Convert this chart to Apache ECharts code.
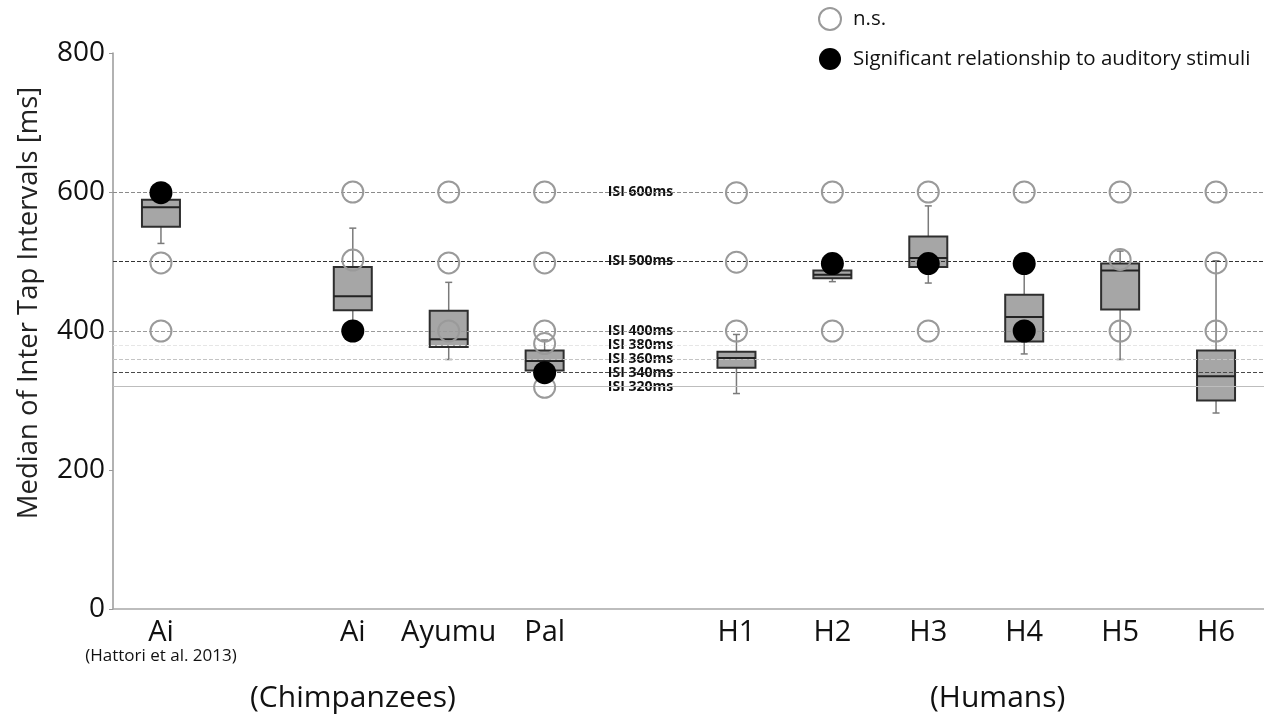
<!DOCTYPE html>
<html>
<head>
<meta charset="utf-8">
<script src="https://cdn.jsdelivr.net/npm/echarts@6/dist/echarts.min.js"></script>
<style>
html,body{margin:0;padding:0;background:#fff;}
#chart{width:1264px;height:715px;}
</style>
</head>
<body>
<div id="chart"></div>
<script>
// ---- data ----
const categories = ['Ai (Hattori et al. 2013)', '', 'Ai', 'Ayumu', 'Pal', ' ', 'H1', 'H2', 'H3', 'H4', 'H5', 'H6'];
const yTicks = [0, 200, 400, 600, 800];

// box plot per subject (category index)
const boxCat = [0, 2, 3, 4, 6, 7, 8, 9, 10, 11];
const boxMin = [526, 405, 359, 340, 310, 471, 469, 367, 359, 282];
const boxQ1  = [550, 430, 377, 343, 347, 476, 492, 385, 431, 300];
const boxMed = [578, 450, 388, 357, 361, 481, 505, 420, 487, 335];
const boxQ3  = [589, 492, 429, 372, 370, 487, 536, 452, 497, 372];
const boxMax = [589, 548, 470, 387, 395, 490, 580, 495, 515, 501];

// n.s. points [category index, value]
const nsPoints = [
  [0, 498], [0, 400],
  [2, 600], [2, 502],
  [3, 600], [3, 498], [3, 400],
  [4, 600], [4, 498], [4, 400], [4, 382], [4, 319],
  [6, 599], [6, 499], [6, 400],
  [7, 600], [7, 400],
  [8, 600], [8, 400],
  [9, 600],
  [10, 600], [10, 503], [10, 400],
  [11, 600], [11, 498], [11, 400]
];
// significant points
const sigPoints = [[0, 599], [2, 400], [4, 340], [7, 497], [8, 497], [9, 497], [9, 400]];

// ISI reference lines
const isiValues = [600, 500, 400, 380, 360, 340, 320];
const isiLabels = ['ISI 600ms', 'ISI 500ms', 'ISI 400ms', 'ISI 380ms', 'ISI 360ms', 'ISI 340ms', 'ISI 320ms'];
const isiLabelCat = 5;

const groupLabels = ['(Chimpanzees)', '(Humans)'];

// ---- styles ----
const FONT = 'Open Sans';
const isiStyles = [
  {color: '#8a8a8a', type: 'dashed', width: 1},
  {color: '#333333', type: 'dashed', width: 1},
  {color: '#9a9a9a', type: 'dashed', width: 1},
  {color: '#e6e6e6', type: 'dashed', width: 1},
  {color: '#c4c4c4', type: 'dashed', width: 1},
  {color: '#4a4a4a', type: 'dashed', width: 1},
  {color: '#bdbdbd', type: 'solid', width: 1.2}
];

const boxData = boxCat.map((c, i) => [c, boxMin[i], boxQ1[i], boxMed[i], boxQ3[i], boxMax[i]]);

const chart = echarts.init(document.getElementById('chart'), null, {renderer: 'canvas'});

const option = {
  animation: false,
  backgroundColor: '#ffffff',
  textStyle: {fontFamily: FONT},
  grid: {left: 113, right: 0, top: 53, bottom: 106},
  legend: {
    orient: 'vertical',
    left: 813,
    top: 2,
    itemWidth: 36,
    itemHeight: 22,
    itemGap: 17,
    textStyle: {fontFamily: FONT, fontSize: 20.5, color: '#111'},
    data: ['n.s.', 'Significant relationship to auditory stimuli']
  },
  xAxis: {
    type: 'category',
    data: categories,
    boundaryGap: true,
    axisLine: {lineStyle: {color: '#a8a8a8', width: 1.5}},
    axisTick: {show: false},
    axisLabel: {
      interval: 0,
      margin: 9,
      formatter: function (v) {
        const k = v.indexOf(' (');
        if (k > 0) return '{big|' + v.slice(0, k) + '}\n{small|' + v.slice(k + 1) + '}';
        return '{big|' + v + '}';
      },
      rich: {
        big: {fontFamily: FONT, fontSize: 29, color: '#111', lineHeight: 30},
        small: {fontFamily: FONT, fontSize: 17, color: '#111', lineHeight: 16}
      }
    }
  },
  yAxis: {
    type: 'value',
    min: 0, max: 800, interval: 200,
    name: 'Median of Inter Tap Intervals [ms]',
    nameLocation: 'middle',
    nameGap: 70,
    nameTextStyle: {fontFamily: FONT, fontSize: 27.5, color: '#222', padding: [0, 0, 0, 56]},
    axisLine: {show: true, lineStyle: {color: '#999', width: 1.5}},
    axisTick: {show: true, length: 4, lineStyle: {color: '#999'}},
    axisLabel: {fontFamily: FONT, fontSize: 28, color: '#111', margin: 8},
    splitLine: {show: false}
  },
  series: [
    {
      name: 'ISI',
      type: 'line',
      data: [],
      silent: true,
      markLine: {
        silent: true,
        symbol: ['none', 'none'],
        label: {show: false},
        data: isiValues.map((v, i) => ({yAxis: v, lineStyle: isiStyles[i]}))
      },
      z: 1
    },
    {
      name: 'ISI labels',
      type: 'scatter',
      symbolSize: 0,
      silent: true,
      itemStyle: {opacity: 1},
      data: isiValues.map((v, i) => ({value: [isiLabelCat, v], label: {formatter: isiLabels[i]}})),
      label: {
        show: true,
        position: 'inside',
        fontFamily: FONT,
        fontWeight: 'bold',
        fontSize: 14,
        color: '#111'
      },
      z: 3
    },
    {
      name: 'box',
      type: 'custom',
      data: boxData,
      encode: {x: 0, y: [1, 2, 3, 4, 5]},
      renderItem: function (params, api) {
        const c = api.value(0);
        const pMin = api.coord([c, api.value(1)]);
        const pQ1 = api.coord([c, api.value(2)]);
        const pMed = api.coord([c, api.value(3)]);
        const pQ3 = api.coord([c, api.value(4)]);
        const pMax = api.coord([c, api.value(5)]);
        const x = pMed[0];
        const hw = 19, cap = 3.5;
        const wStyle = {stroke: '#7a7a7a', lineWidth: 1.5};
        return {
          type: 'group',
          children: [
            {type: 'line', shape: {x1: x, y1: pMax[1], x2: x, y2: pMin[1]}, style: wStyle},
            {type: 'line', shape: {x1: x - cap, y1: pMax[1], x2: x + cap, y2: pMax[1]}, style: wStyle},
            {type: 'line', shape: {x1: x - cap, y1: pMin[1], x2: x + cap, y2: pMin[1]}, style: wStyle},
            {type: 'rect', shape: {x: x - hw, y: pQ3[1], width: 2 * hw, height: pQ1[1] - pQ3[1]},
              style: {fill: '#a6a6a6', stroke: '#2e2e2e', lineWidth: 2}},
            {type: 'line', shape: {x1: x - hw, y1: pMed[1], x2: x + hw, y2: pMed[1]},
              style: {stroke: '#222', lineWidth: 2}}
          ]
        };
      },
      z: 4
    },
    {
      name: 'n.s.',
      type: 'scatter',
      data: nsPoints,
      symbol: 'circle',
      symbolSize: 21,
      itemStyle: {color: 'rgba(255,255,255,0)', borderColor: '#9a9a9a', borderWidth: 2, opacity: 1},
      z: 5
    },
    {
      name: 'Significant relationship to auditory stimuli',
      type: 'scatter',
      data: sigPoints,
      symbol: 'circle',
      symbolSize: 23,
      itemStyle: {color: '#000000', opacity: 1},
      z: 6
    }
  ],
  graphic: [
    {type: 'text', left: 250, top: 683, style: {text: groupLabels[0], fontFamily: FONT, fontSize: 30, fill: '#111'}},
    {type: 'text', left: 930, top: 683, style: {text: groupLabels[1], fontFamily: FONT, fontSize: 30, fill: '#111'}}
  ]
};
chart.setOption(option);
</script>
</body>
</html>
